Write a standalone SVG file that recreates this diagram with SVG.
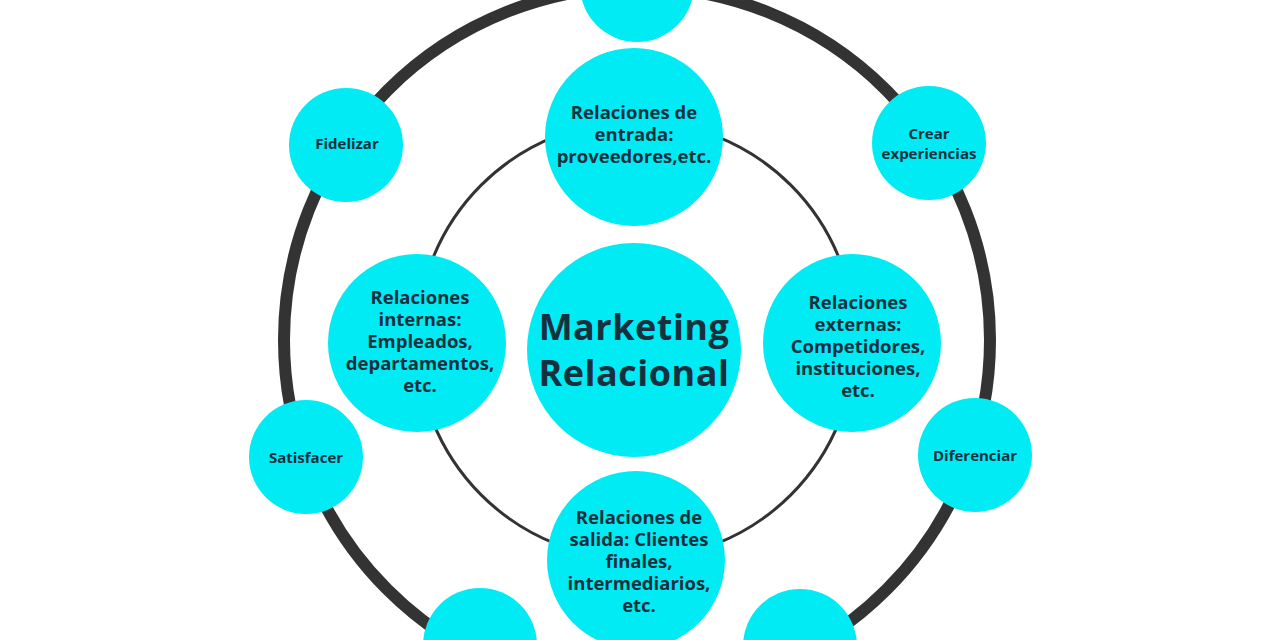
<svg xmlns="http://www.w3.org/2000/svg" width="1280" height="640" viewBox="0 0 1280 640">
<style>
.node{fill:#00ebf4}
.ring{fill:none;stroke:#333333}
text{font-family:"Open Sans","Liberation Sans",sans-serif;font-weight:700;fill:#17303d;text-anchor:middle}
.s{font-size:15px}
.m{font-size:18.5px}
.l{font-size:36px}
</style>
<rect width="1280" height="640" fill="#ffffff"/>
<g id="connectors">
<circle class="ring" cx="637" cy="340" r="353" stroke-width="12"/>
<circle class="ring" cx="636" cy="340" r="219" stroke-width="3"/>
</g>
<g id="top-outer"><circle class="node" cx="637" cy="-15" r="57"/></g>
<g id="fidelizar"><circle class="node" cx="346" cy="145" r="57"/><text class="s" x="347" y="149">Fidelizar</text></g>
<g id="crear"><circle class="node" cx="929" cy="143" r="57"/><text class="s" x="929" y="139">Crear</text><text class="s" x="929" y="159">experiencias</text></g>
<g id="satisfacer"><circle class="node" cx="306" cy="457" r="57"/><text class="s" x="306" y="463">Satisfacer</text></g>
<g id="diferenciar"><circle class="node" cx="975" cy="455" r="57"/><text class="s" x="975" y="461">Diferenciar</text></g>
<g id="bottom-left"><circle class="node" cx="480" cy="645" r="57"/></g>
<g id="bottom-right"><circle class="node" cx="800" cy="646" r="57"/></g>
<g id="entrada"><circle class="node" cx="634" cy="137" r="89"/>
<text class="m" x="634" y="119">Relaciones de</text><text class="m" x="634" y="141">entrada:</text><text class="m" x="634" y="163">proveedores,etc.</text></g>
<g id="internas"><circle class="node" cx="417" cy="343" r="89"/>
<text class="m" x="420" y="304">Relaciones</text><text class="m" x="420" y="326">internas:</text><text class="m" x="420" y="348">Empleados,</text><text class="m" x="420" y="370">departamentos,</text><text class="m" x="420" y="392">etc.</text></g>
<g id="externas"><circle class="node" cx="852" cy="343" r="89"/>
<text class="m" x="858" y="309">Relaciones</text><text class="m" x="858" y="331">externas:</text><text class="m" x="858" y="353">Competidores,</text><text class="m" x="858" y="375">instituciones,</text><text class="m" x="858" y="397">etc.</text></g>
<g id="salida"><circle class="node" cx="636" cy="560" r="89"/>
<text class="m" x="639" y="524">Relaciones de</text><text class="m" x="639" y="546">salida: Clientes</text><text class="m" x="639" y="568">finales,</text><text class="m" x="639" y="590">intermediarios,</text><text class="m" x="639" y="612">etc.</text></g>
<g id="center"><circle class="node" cx="634" cy="350" r="107"/>
<text class="l" x="634" y="340" letter-spacing="0.5">Marketing</text><text class="l" x="634" y="386" letter-spacing="0.5">Relacional</text></g>
</svg>
